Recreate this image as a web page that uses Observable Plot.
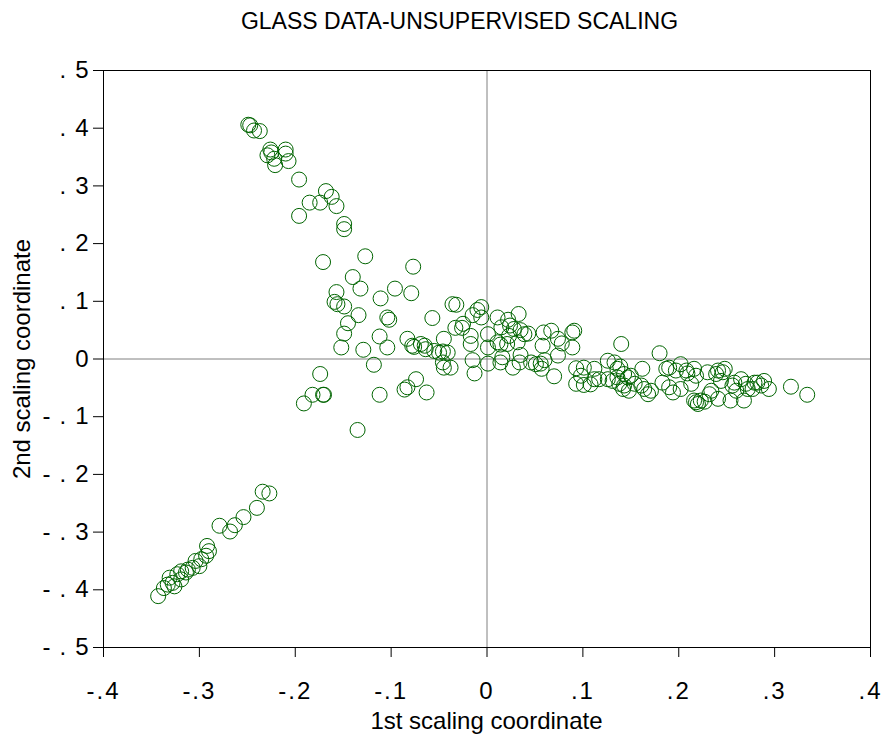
<!DOCTYPE html>
<html>
<head>
<meta charset="utf-8">
<script src="https://cdn.jsdelivr.net/npm/d3@7"></script>
<script src="https://cdn.jsdelivr.net/npm/@observablehq/plot@0.6"></script>
<style>
  html, body { margin: 0; padding: 0; background: #fff; }
  #wrap { position: relative; width: 883px; height: 736px; font-family: "Liberation Sans", Arial, sans-serif; }
  #title { position: absolute; left: 18px; width: 883px; top: 8px; text-align: center; font-size: 23px; color: #000; }
  #xlab { position: absolute; left: 103px; width: 767px; top: 707px; text-align: center; font-size: 24px; color: #000; }
  #ylab { position: absolute; left: 22px; top: 359px; transform: translate(-50%, -50%) rotate(-90deg); white-space: nowrap; font-size: 24px; color: #000; }
  svg text { fill: #000; }
  .xt text { letter-spacing: 2px; }
  .yt text { letter-spacing: 9px; }
</style>
</head>
<body>
<div id="wrap">
  <div id="chart"></div>
  <div id="title">GLASS DATA-UNSUPERVISED SCALING</div>
  <div id="xlab">1st scaling coordinate</div>
  <div id="ylab">2nd scaling coordinate</div>
</div>
<script>
// 1st scaling coordinate
const coord1 = [
  -0.249,-0.247,-0.243,-0.237,-0.226,-0.229,-0.221,-0.210,-0.210,-0.207,
  -0.222,-0.225,-0.196,-0.168,-0.162,-0.185,-0.174,-0.157,-0.196,-0.149,
  -0.149,-0.171,-0.127,-0.077,-0.140,-0.132,-0.096,-0.079,-0.157,-0.111,
  -0.159,-0.156,-0.149,-0.134,-0.145,-0.149,-0.152,-0.129,-0.112,-0.104,
  -0.104,-0.102,-0.057,-0.036,-0.032,-0.015,-0.010,-0.006,-0.033,-0.026,
  -0.083,-0.078,-0.076,-0.065,-0.064,-0.055,-0.050,-0.046,-0.041,-0.045,
  -0.045,-0.038,-0.017,-0.017,-0.015,-0.013,0.001,0.001,0.001,0.011,
  -0.118,-0.174,-0.182,-0.171,-0.170,-0.191,-0.112,-0.083,-0.086,-0.074,
  -0.063,-0.135,-0.069,-0.046,-0.006,-0.025,0.022,0.033,0.015,0.024,
  0.028,0.035,0.043,0.011,0.023,0.021,0.032,0.016,0.027,0.035,
  0.014,0.046,0.051,0.056,0.060,0.057,0.059,0.067,0.058,0.074,
  0.078,0.089,0.091,0.089,0.074,0.070,0.093,0.101,0.098,0.093,
  0.101,0.112,0.034,0.014,0.039,0.126,0.133,0.139,0.140,0.126,
  0.131,0.136,0.138,0.143,0.147,0.154,0.161,0.162,0.168,0.112,
  0.136,0.143,0.150,0.117,0.142,0.148,0.164,0.171,0.108,0.180,
  0.187,0.190,0.197,0.202,0.208,0.209,0.183,0.190,0.194,0.202,
  0.213,0.218,0.216,0.218,0.220,0.223,0.227,0.230,0.234,0.239,
  0.241,0.246,0.244,0.241,0.254,0.260,0.265,0.268,0.270,0.279,
  0.277,0.282,0.286,0.289,0.294,0.317,0.334,0.256,0.216,0.232,
  0.258,0.272,0.248,
  -0.234,-0.227,-0.240,-0.254,-0.279,-0.268,-0.263,-0.292,-0.290,-0.293,
  -0.298,-0.304,-0.300,-0.307,-0.312,-0.314,-0.319,-0.323,-0.319,-0.331,
  -0.333,-0.328,-0.326,-0.337,-0.343
];
// 2nd scaling coordinate
const coord2 = [
  0.406,0.405,0.396,0.395,0.363,0.353,0.336,0.363,0.356,0.343,
  0.347,0.358,0.311,0.291,0.281,0.271,0.271,0.265,0.248,0.234,
  0.225,0.168,0.178,0.160,0.142,0.122,0.122,0.114,0.116,0.105,
  0.099,0.095,0.091,0.076,0.062,0.044,0.020,0.016,0.039,0.020,
  0.072,0.068,0.071,0.095,0.094,0.076,0.085,0.090,0.054,0.054,
  0.035,0.023,0.021,0.023,0.017,0.014,0.011,0.013,0.011,0.035,
  -0.015,-0.015,0.040,0.026,-0.002,-0.025,0.043,0.020,-0.008,0.072,
  -0.010,-0.026,-0.062,-0.062,-0.062,-0.077,-0.062,-0.049,-0.053,-0.035,
  -0.058,-0.123,0.026,-0.006,0.072,0.061,0.068,0.078,0.055,0.058,
  0.052,0.050,0.044,0.029,0.040,0.026,0.029,0.003,-0.015,0.007,
  -0.006,-0.006,-0.009,-0.008,-0.002,-0.017,0.046,0.049,0.023,0.035,
  0.027,0.046,0.049,0.020,0.006,-0.030,-0.016,-0.015,-0.029,-0.043,
  -0.045,-0.035,-0.006,0.025,0.043,-0.003,-0.006,-0.013,0.026,-0.035,
  -0.038,-0.032,-0.043,-0.046,-0.032,-0.043,-0.046,-0.017,-0.061,-0.017,
  -0.017,-0.026,-0.029,-0.035,-0.052,-0.055,-0.052,-0.055,-0.044,0.010,
  -0.017,-0.015,-0.020,-0.009,-0.020,-0.025,-0.041,-0.049,-0.058,-0.052,
  -0.043,-0.029,-0.072,-0.075,-0.078,-0.072,-0.074,-0.023,-0.055,-0.026,
  -0.020,-0.023,-0.038,-0.069,-0.072,-0.055,-0.035,-0.072,-0.043,-0.041,
  -0.052,-0.041,-0.046,-0.038,-0.052,-0.048,-0.062,-0.046,-0.017,-0.061,
  -0.041,-0.052,-0.017,
  -0.230,-0.233,-0.258,-0.274,-0.289,-0.299,-0.288,-0.324,-0.333,-0.341,
  -0.347,-0.350,-0.359,-0.362,-0.365,-0.370,-0.368,-0.373,-0.382,-0.379,
  -0.391,-0.388,-0.394,-0.397,-0.411
];
const xTicks = [-0.4, -0.3, -0.2, -0.1, 0, 0.1, 0.2, 0.3, 0.4];
const yTicks = [-0.5, -0.4, -0.3, -0.2, -0.1, 0, 0.1, 0.2, 0.3, 0.4, 0.5];

const n = Math.min(coord1.length, coord2.length);
const points = d3.range(n).map(i => ({x: coord1[i], y: coord2[i]}));
const fmt = d => d === 0 ? "0" : (d < 0 ? "-" : "") + "." + Math.round(Math.abs(d) * 10);

const chart = Plot.plot({
  width: 883,
  height: 736,
  marginLeft: 103,
  marginRight: 13,
  marginTop: 70,
  marginBottom: 89,
  style: {fontFamily: "'Liberation Sans', Arial, sans-serif", background: "white"},
  x: {domain: [-0.4, 0.4]},
  y: {domain: [-0.5, 0.5]},
  marks: [
    Plot.ruleX([0], {stroke: "#808080", strokeWidth: 1}),
    Plot.ruleY([0], {stroke: "#808080", strokeWidth: 1}),
    Plot.dot(points, {x: "x", y: "y", r: 7.5, stroke: "#006400", strokeWidth: 1, fill: "none"}),
    Plot.frame({stroke: "black", strokeWidth: 1}),
    Plot.axisX(xTicks, {className: "xt", tickSize: 10, tickPadding: 24, tickFormat: fmt, fontSize: 24, label: null, stroke: "black"}),
    Plot.axisY(yTicks, {className: "yt", tickSize: 10, tickPadding: -4, tickFormat: fmt, fontSize: 24, label: null, stroke: "black"})
  ]
});
document.getElementById("chart").appendChild(chart);
</script>
</body>
</html>
